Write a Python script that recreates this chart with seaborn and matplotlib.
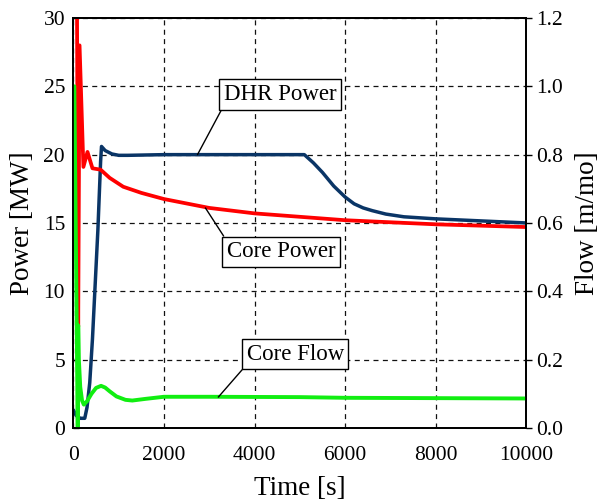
import matplotlib
matplotlib.use('Agg')
import matplotlib.pyplot as plt
import seaborn as sns
import pandas as pd

# core power [MW]
core_t = [0, 105, 135, 220, 310, 420, 600, 800, 1100, 1500, 2000, 3000, 4000, 5000, 6000, 7000, 8000, 9000, 10000]
core_p = [100, 7.4, 28.0, 19.1, 20.2, 19.0, 18.9, 18.3, 17.65, 17.2, 16.75, 16.1, 15.7, 15.45, 15.2, 15.05, 14.9, 14.8, 14.7]

# DHR power [MW]
dhr_t = [0, 60, 150, 250, 300, 360, 420, 480, 540, 600, 620, 700, 850, 1000, 1200, 2000, 3000, 4000, 5100,
         5300, 5500, 5750, 6000, 6200, 6400, 6600, 6900, 7300, 8000, 9000, 10000]
dhr_p = [1.3, 0.9, 0.7, 0.7, 1.5, 3.3, 6.5, 10.5, 14.5, 19.5, 20.6, 20.3, 20.05, 19.95, 19.95, 20.0, 20.0, 20.0, 20.0,
         19.4, 18.7, 17.7, 16.9, 16.4, 16.1, 15.9, 15.65, 15.45, 15.3, 15.15, 15.0]

# core flow [m/mo]
flow_t = [0, 20, 95, 105, 120, 150, 190, 230, 300, 400, 500, 610, 700, 800, 950, 1150, 1300, 1600, 2000,
          3000, 5000, 6000, 8000, 10000]
flow_v = [1.0, 1.0, -0.01, 0.30, 0.20, 0.12, 0.08, 0.068, 0.078, 0.10, 0.117, 0.123, 0.118, 0.107, 0.092,
          0.082, 0.080, 0.085, 0.091, 0.091, 0.09, 0.088, 0.087, 0.086]

sns.set_style('white')
plt.rcParams['font.family'] = ['Liberation Serif', 'DejaVu Serif']
plt.rcParams['text.color'] = 'black'
plt.rcParams['axes.labelcolor'] = 'black'

fig = plt.figure(figsize=(6.02, 5.01), dpi=100)
ax = fig.add_axes([0.122, 0.146, 0.752, 0.818])
ax2 = ax.twinx()

core = pd.DataFrame({'t': core_t, 'p': core_p})
dhr = pd.DataFrame({'t': dhr_t, 'p': dhr_p})
flow = pd.DataFrame({'t': flow_t, 'f': flow_v})

sns.lineplot(data=dhr, x='t', y='p', ax=ax, color='#0a3566', lw=2.5, sort=False)
sns.lineplot(data=core, x='t', y='p', ax=ax, color='#ff0000', lw=2.7, sort=False)
sns.lineplot(data=flow, x='t', y='f', ax=ax2, color='#11ee11', lw=2.8, sort=False)

ax.set_xlim(0, 10000)
ax.set_ylim(0, 30)
ax2.set_ylim(0, 1.2)
ax.set_xticks(range(0, 10001, 2000))
ax.set_yticks(range(0, 31, 5))
ax2.set_yticks([0.0, 0.2, 0.4, 0.6, 0.8, 1.0, 1.2])
ax2.set_yticklabels(['0.0', '0.2', '0.4', '0.6', '0.8', '1.0', '1.2'])

ax.grid(True, color='#111111', linestyle=(0, (4, 3.5)), lw=0.9)
ax.set_axisbelow(True)

for a in (ax, ax2):
    for s in a.spines.values():
        s.set_color('black')
        s.set_linewidth(1.3)

ax.tick_params(axis='x', direction='in', length=4, width=1, labelsize=15.5, pad=13, colors='black')
ax.tick_params(axis='y', direction='in', length=4, width=1, labelsize=15.5, pad=6, colors='black')
ax2.tick_params(axis='y', direction='out', length=4, width=1, labelsize=15.5, pad=3, colors='black')

ax.set_xlabel('Time [s]', fontsize=19.5, labelpad=8)
ax.set_ylabel('Power [MW]', fontsize=19.5, labelpad=6)
ax2.set_ylabel('Flow [m/mo]', fontsize=19.5, labelpad=9)

box = dict(boxstyle='square,pad=0.2', fc='white', ec='black', lw=1)
ax2.annotate('DHR Power', xy=(2740, 20.0), xycoords=ax.transData, xytext=(4570, 24.4), textcoords=ax.transData,
             fontsize=16.5, ha='center', va='center', bbox=box,
             arrowprops=dict(arrowstyle='-', color='black', lw=1, relpos=(0, 0), shrinkA=0, shrinkB=0))
ax2.annotate('Core Power', xy=(2915, 16.1), xycoords=ax.transData, xytext=(4590, 12.9), textcoords=ax.transData,
             fontsize=16.5, ha='center', va='center', bbox=box,
             arrowprops=dict(arrowstyle='-', color='black', lw=1, relpos=(0, 1), shrinkA=0, shrinkB=0))
ax2.annotate('Core Flow', xy=(3200, 2.25), xycoords=ax.transData, xytext=(4900, 5.4), textcoords=ax.transData,
             fontsize=16.5, ha='center', va='center', bbox=box,
             arrowprops=dict(arrowstyle='-', color='black', lw=1, relpos=(0, 0), shrinkA=0, shrinkB=0))

fig.savefig('out.png', dpi=100)
